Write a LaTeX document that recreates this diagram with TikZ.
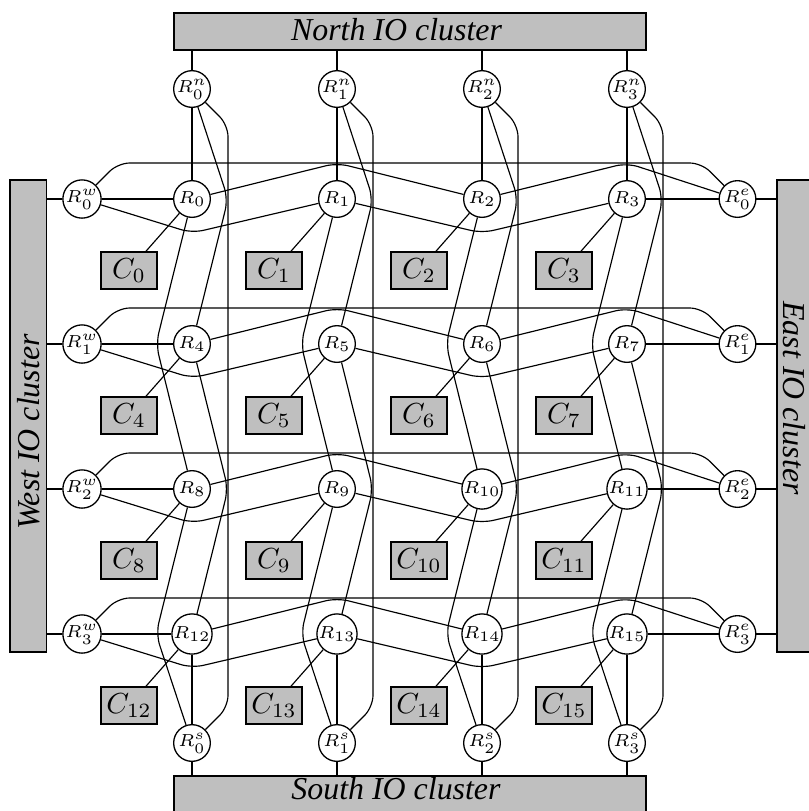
\documentclass[tikz,border=0pt]{standalone}
\usepackage[no-math]{fontspec}
\newfontfamily\clfont{Liberation Serif}
\usetikzlibrary{calc}
\DeclareMathSizes{6}{6}{5}{5}
\pgfdeclarelayer{bg}
\pgfsetlayers{bg,main}
\begin{document}
\begin{tikzpicture}[x=0.34483pt,y=-0.34483pt,line width=0.45pt,
  router/.style={circle,draw,fill=white,minimum size=12.65pt,inner sep=0pt,font=\fontsize{6}{7}\selectfont},
  core/.style={rectangle,draw,fill=black!25,minimum width=19.3pt,minimum height=12.76pt,inner sep=0pt},
  iobox/.style={rectangle,draw,fill=black!25,inner sep=0pt},
  iotext/.style={font=\clfont\itshape\fontsize{11}{13}\selectfont,inner sep=0pt,anchor=base},
  link/.style={rounded corners=4pt}]
\useasboundingbox (0,0) rectangle (809,811);

% IO cluster boxes
\node[iobox,minimum width=162.8pt,minimum height=12.76pt] (NB) at (410,31.5) {};
\node[iobox,minimum width=162.8pt,minimum height=12.76pt] (SB) at (410,794.5) {};
\node[iobox,minimum width=12.65pt,minimum height=162.8pt] (WB) at (28.35,416) {};
\node[iobox,minimum width=12.4pt,minimum height=162.8pt] (EB) at (795,416) {};
\node[iotext] (NT) at (396.5,40.7) {North IO cluster};
\node[iotext] (ST) at (396,799.5) {South IO cluster};
\node[iotext,rotate=90] (WT) at (39.5,432) {West IO cluster};
\node[iotext,rotate=-90] (ET) at (784,398) {East IO cluster};

% routers and cores
\foreach \k in {0,...,15} {
  \pgfmathtruncatemacro\cc{mod(\k,4)}
  \pgfmathtruncatemacro\rr{div(\k,4)}
  \node[router] (R\k) at ({192+145*\cc},{199+145*\rr}) {$R_{\k}$};
  \node[core] (C\k) at ($(R\k)+(-63,71.5)$) {$C_{\k}$};
}
\foreach \i in {0,...,3} {
  \node[router] (W\i) at (82,{199+145*\i}) {$R^w_{\i}$};
  \node[router] (E\i) at (737.5,{199+145*\i}) {$R^e_{\i}$};
  \node[router] (N\i) at ({192+145*\i},89) {$R^n_{\i}$};
  \node[router] (S\i) at ({192+145*\i},743) {$R^s_{\i}$};
}

\begin{pgfonlayer}{bg}
% rows
\foreach \i in {0,...,3} {
  \pgfmathtruncatemacro\kA{4*\i}
  \pgfmathtruncatemacro\kB{4*\i+1}
  \pgfmathtruncatemacro\kC{4*\i+2}
  \pgfmathtruncatemacro\kD{4*\i+3}
  \draw (W\i) -- (W\i -| WB.east);
  \draw (E\i) -- (E\i -| EB.west);
  \draw (W\i) -- (R\kA);
  \draw (R\kD) -- (E\i);
  \draw[link] (W\i) -- ($(R\kA)+(0,34)$) -- (R\kB);
  \draw[link] (R\kA) -- ($(R\kB)+(0,-36)$) -- (R\kC);
  \draw[link] (R\kB) -- ($(R\kC)+(0,34)$) -- (R\kD);
  \draw[link] (R\kC) -- ($(R\kD)+(0,-36)$) -- (E\i);
  \draw[link] (W\i) -- ($(W\i)+(36,-36)$) -- ($(E\i)+(-36,-36)$) -- (E\i);
}
% columns
\foreach \j in {0,...,3} {
  \pgfmathtruncatemacro\kA{\j}
  \pgfmathtruncatemacro\kB{\j+4}
  \pgfmathtruncatemacro\kC{\j+8}
  \pgfmathtruncatemacro\kD{\j+12}
  \draw (N\j) -- (N\j |- NB.south);
  \draw (S\j) -- (S\j |- SB.north);
  \draw (N\j) -- (R\kA);
  \draw (R\kD) -- (S\j);
  \draw[link] (N\j) -- ($(R\kA)+(36,0)$) -- (R\kB);
  \draw[link] (R\kA) -- ($(R\kB)+(-36,0)$) -- (R\kC);
  \draw[link] (R\kB) -- ($(R\kC)+(36,0)$) -- (R\kD);
  \draw[link] (R\kC) -- ($(R\kD)+(-36,0)$) -- (S\j);
  \draw[link] (N\j) -- ($(N\j)+(36,36)$) -- ($(S\j)+(36,-36)$) -- (S\j);
}
% router to core
\foreach \k in {0,...,15} { \draw (R\k) -- (C\k); }
\end{pgfonlayer}
\end{tikzpicture}
\end{document}
